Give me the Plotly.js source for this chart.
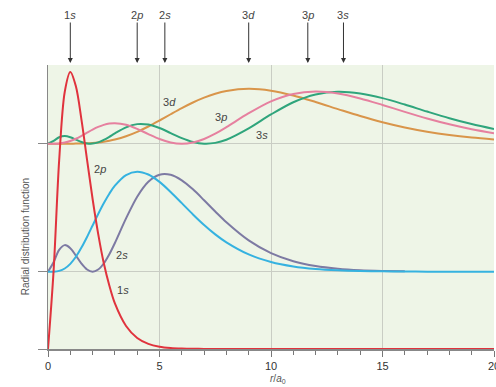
<!DOCTYPE html>
<html>
<head>
<meta charset="utf-8">
<script src="https://cdn.plot.ly/plotly-3.0.1.min.js"></script>
<style>html,body{margin:0;padding:0;background:#fff;}#chart{width:496px;height:387px;}</style>
</head>
<body>
<div id="chart"></div>
<script>
// radius r / a0
const r = [0,0.25,0.5,0.75,1,1.25,1.5,1.75,2,2.25,2.5,2.75,3,3.5,4,4.5,5,5.5,6,6.5,7,7.5,8,9,10,11,12,13,14,15,16,17,18,19,20];
// radial distribution function values
const p1s = [0,0.152,0.368,0.502,0.541,0.513,0.448,0.370,0.293,0.225,0.168,0.124,0.089,0.045,0.0215,0.010,0.0045,0.002,0.0009,0.0004,0.0002,0.0001,0,0,0,0,0,0,0,0,0,0,0,0,0];
const p2s = [0,0.0186,0.0427,0.0519,0.0460,0.0315,0.0157,0.0042,0,0.0042,0.0160,0.0340,0.0560,0.1040,0.1465,0.1757,0.1895,0.1893,0.1785,0.1608,0.1396,0.1176,0.0966,0.0612,0.0363,0.0205,0.0111,0.0058,0.0029,0.0015,0.0007,null,null,null,null];
const p2p = [0,0.0001,0.0016,0.0062,0.0153,0.0291,0.0471,0.0679,0.0902,0.1126,0.1336,0.1523,0.1680,0.1888,0.1954,0.1898,0.1755,0.1558,0.1339,0.1118,0.0912,0.0729,0.0573,0.0337,0.0189,0.0102,0.0053,0.0027,0.0013,0.0007,0.0003,0.0001,0,0,0];
const p3s = [0,0.0055,0.0125,0.0148,0.0126,0.0080,0.0034,0.0005,0.0002,0.0026,0.0073,0.0134,0.0201,0.0319,0.0382,0.0373,0.0306,0.0208,0.0109,0.0034,0.0001,0.0016,0.0076,0.0297,0.0571,0.0810,0.0962,0.1015,0.0982,0.0890,0.0764,0.0628,0.0498,0.0383,0.0287];
const p3p = [0,0.00004,0.00055,0.00215,0.0052,0.0097,0.0153,0.0214,0.0274,0.0327,0.0367,0.0393,0.0401,0.0370,0.0289,0.0187,0.0091,0.0024,0,0.0024,0.0092,0.0195,0.0322,0.0595,0.0828,0.0972,0.1018,0.0980,0.0884,0.0757,0.0621,0.0492,0.0378,0.0282,0.0206];
const p3d = [0,0,0,0,0.00004,0.00014,0.00034,0.00073,0.00137,0.00235,0.00375,0.00564,0.00802,0.0145,0.0231,0.0336,0.0453,0.0575,0.0695,0.0805,0.0899,0.0975,0.1029,0.1071,0.1035,0.0941,0.0814,0.0676,0.0541,0.0420,0.0318,0.0235,0.0170,0.0121,0.0084];
// x tick labels
const xTicks = [0, 5, 10, 15, 20];
const xTickText = ['0', '5', '10', '15', '20'];
// most probable radii marked by arrows
const arrowLabels = ["1<i>s</i>","2<i>p</i>","2<i>s</i>","3<i>d</i>","3<i>p</i>","3<i>s</i>"];
const arrowR = [1, 4, 5.24, 9, 11.65, 13.25];
// curve labels
const curveLabels = ["1<i>s</i>","2<i>s</i>","2<i>p</i>","3<i>d</i>","3<i>p</i>","3<i>s</i>"];
const curveLabelR = [3.35, 3.3, 2.35, 5.45, 7.75, 9.6];
const curveLabelP = [0.115, 0.184, 0.351, 0.483, 0.454, 0.418];

const off2 = 0.151, off3 = 0.401;
const shift = (arr, o) => arr.map(v => v === null ? null : v + o);

function tr(y, color) {
  return {x: r, y: y, type: 'scatter', mode: 'lines', hoverinfo: 'skip',
    line: {color: color, width: 2, shape: 'spline', smoothing: 0.9}, showlegend: false, connectgaps: false};
}
const data = [
  tr(shift(p3d, off3), '#d9954a'),
  tr(shift(p3s, off3), '#2fa57c'),
  tr(shift(p3p, off3), '#e6809f'),
  tr(shift(p2s, off2), '#7d7aa3'),
  tr(shift(p2p, off2), '#35b2e0'),
  tr(p1s, '#e0333d')
];

const FONT = 'Liberation Sans, Arial, sans-serif';
const annotations = [];
arrowLabels.forEach((t, i) => annotations.push({
  x: arrowR[i], xref: 'x', y: 1.007, yref: 'paper', text: t, showarrow: true,
  ax: 0, ay: -48, arrowhead: 2, arrowsize: 1, arrowwidth: 1, arrowcolor: '#333',
  font: {family: FONT, size: 11, color: '#444'}
}));
curveLabels.forEach((t, i) => annotations.push({
  x: curveLabelR[i], xref: 'x', y: curveLabelP[i], yref: 'y', text: t, showarrow: false,
  font: {family: FONT, size: 11, color: '#444'}
}));
annotations.push({
  x: -0.068, xref: 'paper', y: 0.394, yref: 'paper', text: 'Radial distribution function',
  textangle: -90, showarrow: false,
  font: {family: FONT, size: 10, color: '#555'}
});
annotations.push({
  x: 0.515, xref: 'paper', y: -0.107, yref: 'paper', yanchor: 'middle', text: '<i>r</i>/<i>a</i><sub>0</sub>',
  showarrow: false,
  font: {family: FONT, size: 10, color: '#555'}
});

const layout = {
  width: 496, height: 387,
  margin: {l: 47.5, r: 2, t: 65, b: 38},
  paper_bgcolor: '#ffffff', plot_bgcolor: '#eef5e7',
  font: {family: FONT, size: 11, color: '#333'},
  xaxis: {range: [0, 20], tickmode: 'array', tickvals: xTicks, ticktext: xTickText,
    ticks: 'outside', ticklen: 6, ticklabeloverflow: 'allow',
    tickcolor: '#777', tickwidth: 1, showline: true, linecolor: '#888', linewidth: 1.5,
    showgrid: true, gridcolor: '#c9cdc4', gridwidth: 1, zeroline: false,
    tickfont: {size: 11, color: '#333'},
    minor: {dtick: 1, tick0: 0, ticklen: 4, tickcolor: '#777', showgrid: false, ticks: 'outside'}},
  yaxis: {range: [0, 0.5547], tickvals: [0, off2, off3], ticks: 'outside', ticklen: 9,
    tickcolor: '#888', showticklabels: false, showline: true, linecolor: '#888', linewidth: 1.5,
    showgrid: true, gridcolor: '#c9cdc4', zeroline: false},
  annotations: annotations
};
Plotly.newPlot('chart', data, layout, {displayModeBar: false, staticPlot: true});
</script>
</body>
</html>
